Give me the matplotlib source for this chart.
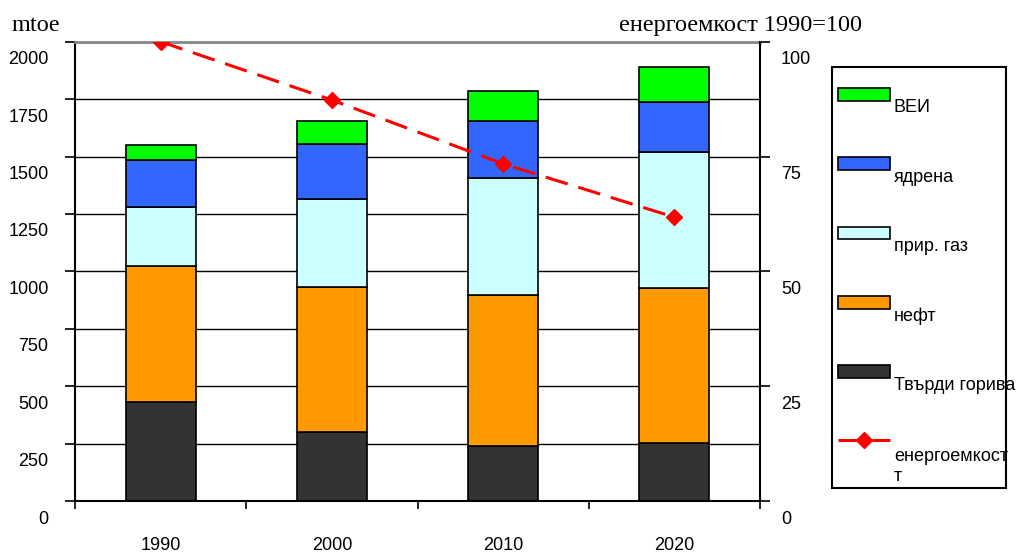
import matplotlib
matplotlib.use("Agg")
import matplotlib.pyplot as plt
from matplotlib.transforms import ScaledTranslation
from matplotlib.patches import Patch, Rectangle
from matplotlib.lines import Line2D

# ---------------- data ----------------
years = ["1990", "2000", "2010", "2020"]
solid_fuels = [432, 302, 240, 254]
oil = [591, 631, 655, 675]
natural_gas = [258, 380, 511, 592]
nuclear = [204, 241, 247, 218]
renewables = [65, 102, 131, 152]
intensity = [100, 87.3, 73.4, 61.8]

series_names = ["Твърди горива", "нефт", "прир. газ", "ядрена", "ВЕИ"]
line_name = "енергоемкост\nт"
left_ticks = [0, 250, 500, 750, 1000, 1250, 1500, 1750, 2000]
right_ticks = [0, 25, 50, 75, 100]

colors = ["#333333", "#FF9900", "#CCFFFF", "#3366FF", "#00FF00"]

plt.rcParams["font.family"] = ["Liberation Sans", "DejaVu Sans"]
plt.rcParams["lines.scale_dashes"] = False

W, H = 1023, 552
fig = plt.figure(figsize=(W / 100, H / 100), dpi=100)
ax = fig.add_axes([75 / W, 1 - 501 / H, 685 / W, 459.3 / H])
ax2 = ax.twinx()

x = list(range(len(years)))
bar_w = 0.41
bottom = [0] * len(years)
for vals, c, name in zip([solid_fuels, oil, natural_gas, nuclear, renewables], colors, series_names):
    ax.bar(x, vals, bar_w, bottom=bottom, color=c, edgecolor="black", linewidth=1.2, label=name, zorder=2)
    bottom = [b + v for b, v in zip(bottom, vals)]

ax2.plot(x, intensity, color="#FF0000", lw=2.2, dashes=(16.5, 8), marker="D", ms=8,
         markerfacecolor="#FF0000", markeredgecolor="#FF0000", zorder=5)

ax.set_xlim(-0.5, 3.5)
ax.set_ylim(0, 2000)
ax2.set_ylim(0, 100)

# grid
ax.set_axisbelow(True)
ax.set_yticks(left_ticks)
ax.yaxis.grid(True, color="black", lw=1.0)

# spines
for s in ["left", "bottom"]:
    ax.spines[s].set_color("black")
    ax.spines[s].set_linewidth(1.5)
ax.spines["top"].set_color("#888888")
ax.spines["top"].set_linewidth(2.0)
ax.spines["right"].set_visible(False)
ax2.spines["right"].set_color("black")
ax2.spines["right"].set_linewidth(1.5)
for s in ["top", "left", "bottom"]:
    ax2.spines[s].set_visible(False)

# y ticks
ax.tick_params(axis="y", direction="out", length=7, width=1.2, labelsize=13, pad=12)
ax2.set_yticks(right_ticks)
ax2.tick_params(axis="y", direction="out", length=7, width=1.2, labelsize=13, pad=8)
offset = ScaledTranslation(0, -16 / 100, fig.dpi_scale_trans)
for lab in ax.get_yticklabels() + ax2.get_yticklabels():
    lab.set_transform(lab.get_transform() + offset)

# x ticks: boundaries as major ticks, labels at centres
ax.set_xticks([-0.5, 0.5, 1.5, 2.5, 3.5])
ax.set_xticklabels([])
ax.tick_params(axis="x", which="major", direction="out", length=6, width=1.2)
ax.set_xticks(x, minor=True)
ax.set_xticklabels(years, minor=True)
ax.tick_params(axis="x", which="minor", length=0, pad=26, labelsize=13)

# axis titles
fig.text(12 / W, 1 - 31 / H, "mtoe", family=["Liberation Serif", "DejaVu Serif"], fontsize=17.5,
         ha="left", va="baseline")
fig.text(862 / W, 1 - 31 / H, "енергоемкост 1990=100", family=["Liberation Serif", "DejaVu Serif"],
         fontsize=17.5, ha="right", va="baseline")

# legend
handles = [Patch(facecolor=c, edgecolor="black", linewidth=1.2) for c in colors[::-1]]
handles.append(Line2D([], [], color="#FF0000", lw=2.2, dashes=(16.5, 8), marker="D", ms=8))
labels = series_names[::-1] + [line_name]
leg = ax2.legend(handles, labels, loc="upper left", bbox_to_anchor=(838 / W, 1 - 88 / H),
                 bbox_transform=fig.transFigure, frameon=False, borderpad=0, borderaxespad=0,
                 handlelength=2.88, handleheight=0.72, handletextpad=0.22, labelspacing=2.89,
                 fontsize=13)
shifts = [-11.5] * 5 + [-13.5]
for t, dy in zip(leg.get_texts(), shifts):
    t.set_y(dy)
line_handle = leg.legend_handles[-1]
line_handle.set_ydata([y + 9 for y in line_handle.get_ydata()])
fig.patches.append(Rectangle((832 / W, 1 - 488.3 / H), 174 / W, 421.6 / H, transform=fig.transFigure,
                             fill=False, edgecolor="black", linewidth=1.5))

fig.savefig("out.png", dpi=100)
